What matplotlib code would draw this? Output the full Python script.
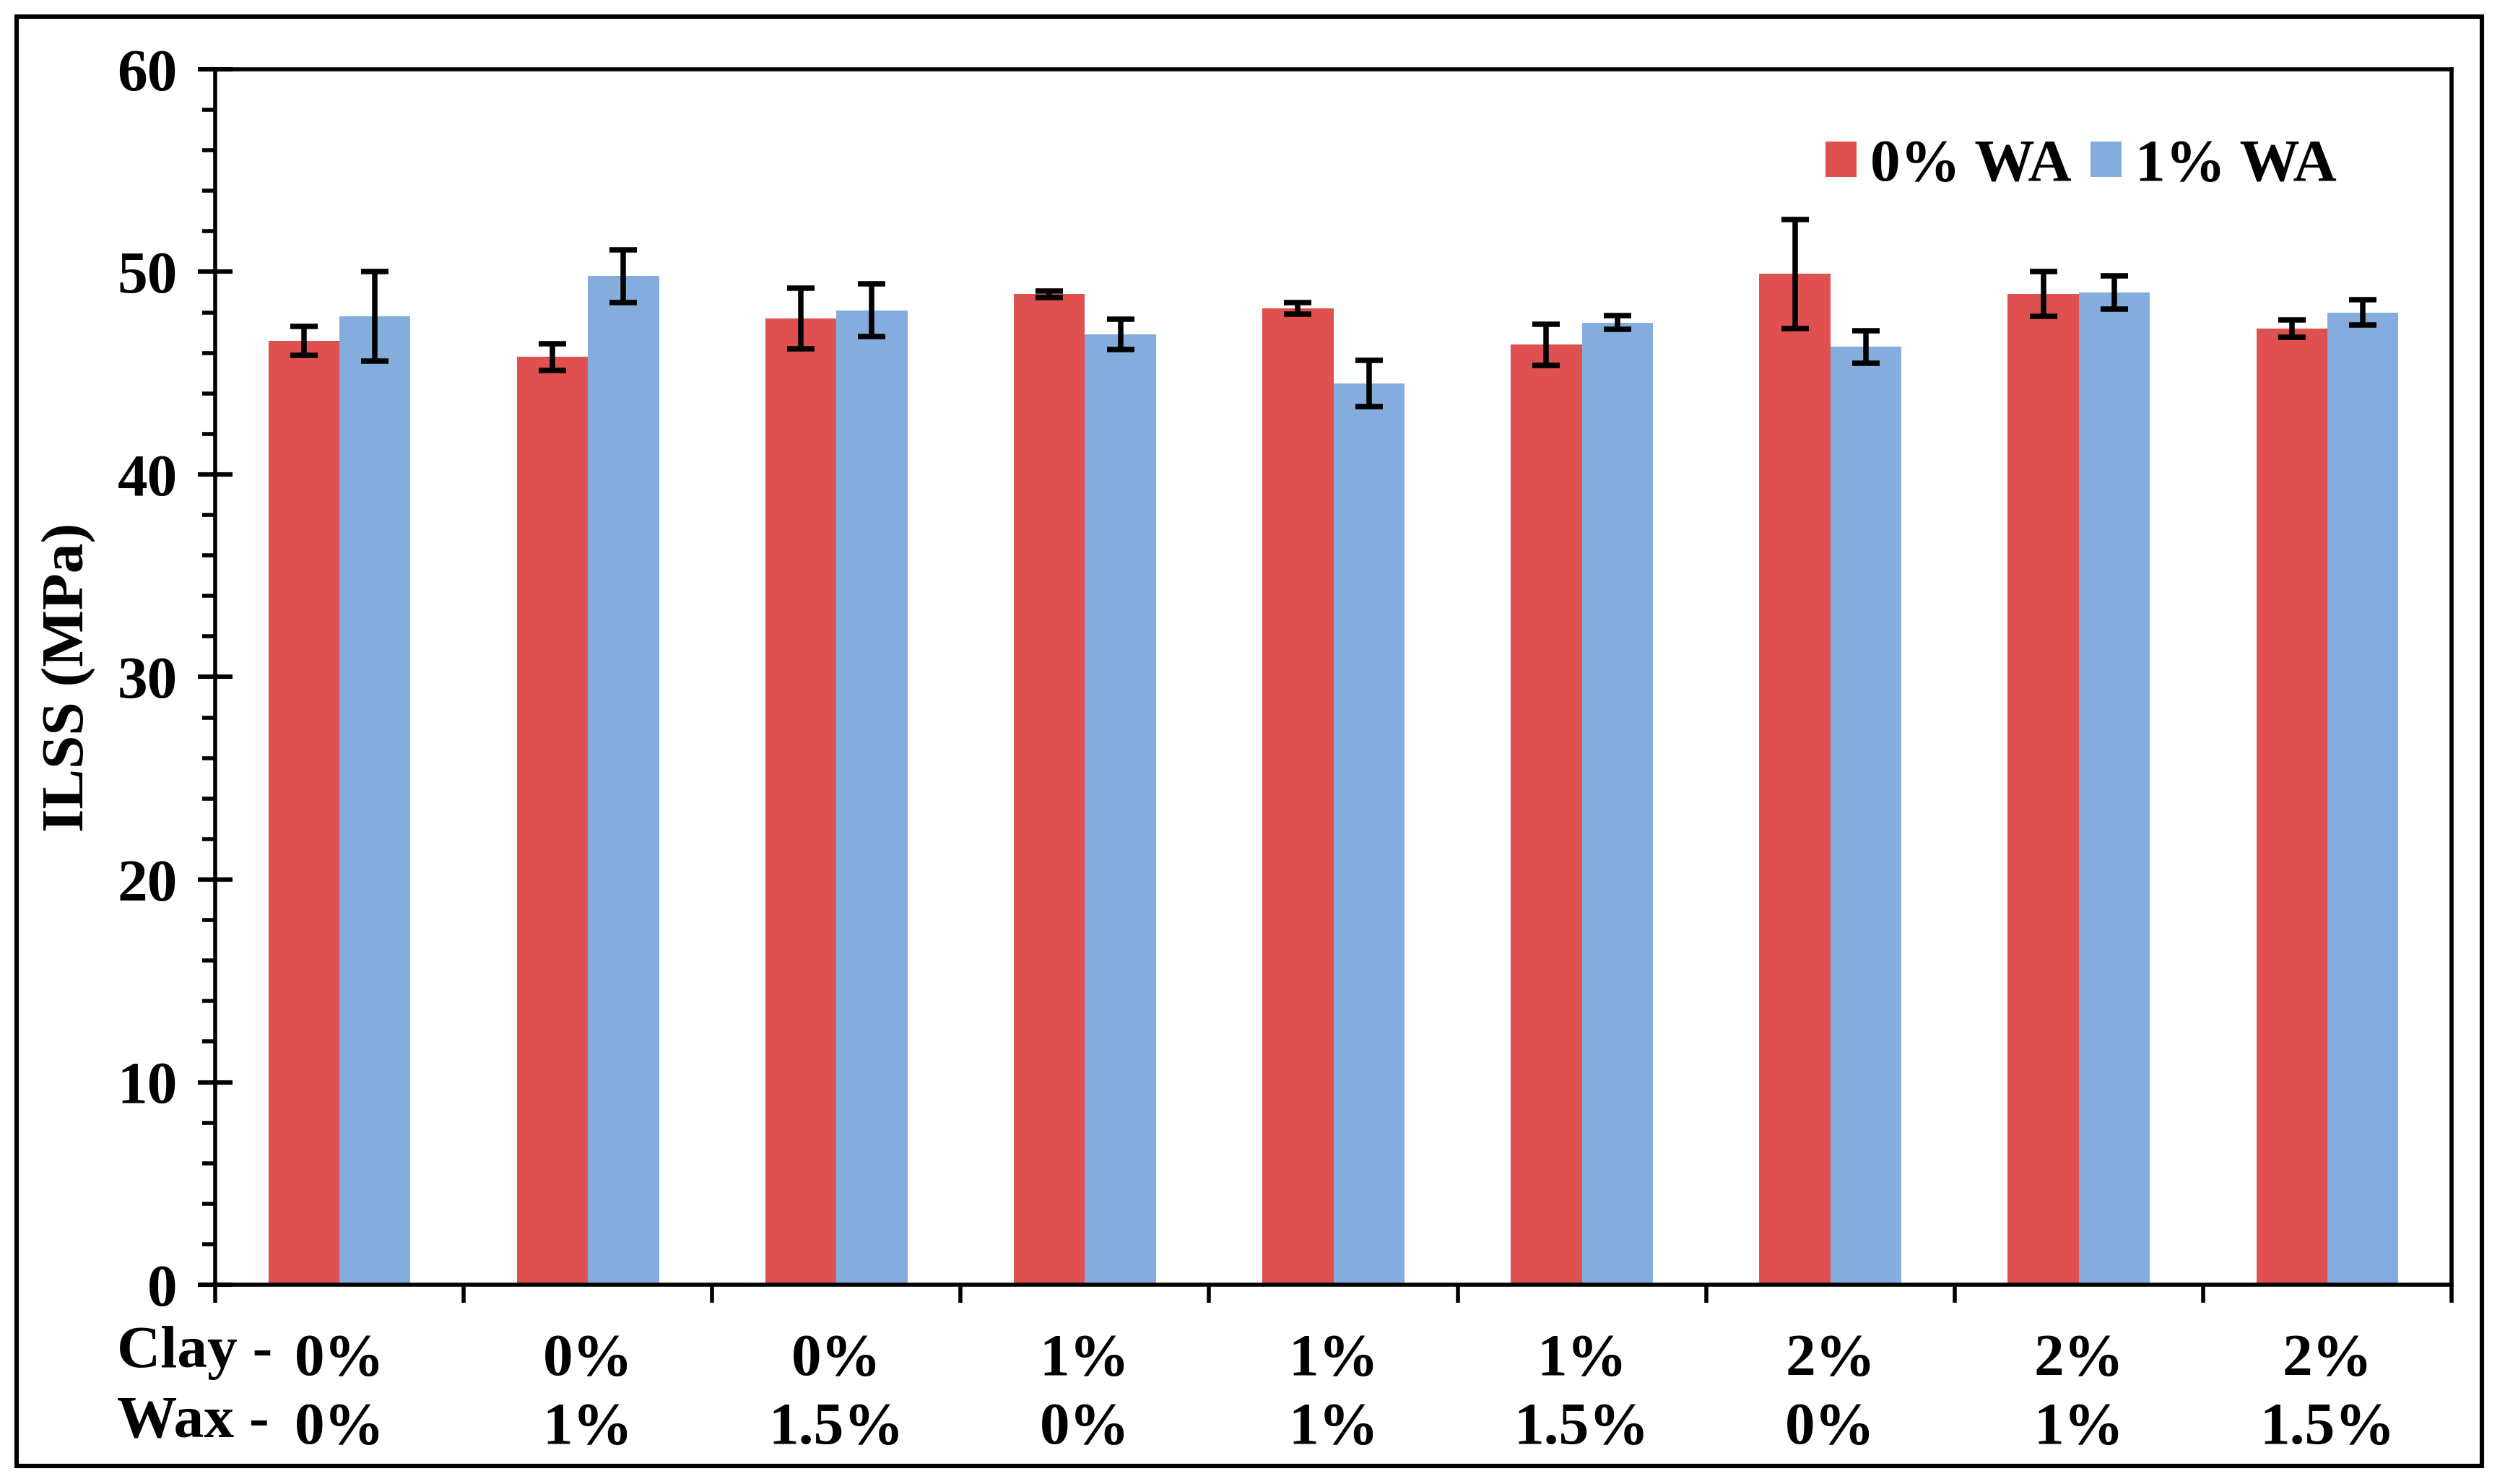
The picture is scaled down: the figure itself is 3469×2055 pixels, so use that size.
import matplotlib
matplotlib.use("Agg")
import matplotlib.pyplot as plt
import numpy as np
from matplotlib.patches import Rectangle
from matplotlib.ticker import MultipleLocator

plt.rcParams['font.family'] = ['Liberation Serif', 'DejaVu Serif']
plt.rcParams['font.weight'] = 'bold'

clay = ["0%", "0%", "0%", "1%", "1%", "1%", "2%", "2%", "2%"]
wax = ["0%", "1%", "1.5%", "0%", "1%", "1.5%", "0%", "1%", "1.5%"]
wa0 = [46.6, 45.8, 47.7, 48.9, 48.2, 46.4, 49.9, 48.9, 47.2]
wa0_err = [0.7, 0.65, 1.5, 0.17, 0.28, 1.0, 2.7, 1.1, 0.43]
wa1 = [47.8, 49.8, 48.1, 46.9, 44.5, 47.5, 46.3, 49.0, 48.0]
wa1_err = [2.2, 1.3, 1.3, 0.75, 1.15, 0.34, 0.8, 0.82, 0.63]
series_labels = ["0% WA", "1% WA"]
red = "#DE5150"
blue = "#84ADDE"

W, H, DPI = 3469, 2055, 200
fig = plt.figure(figsize=(W / DPI, H / DPI), dpi=DPI)
ax = fig.add_axes([298 / W, 1 - 1779 / H, (3395 - 298) / W, (1779 - 96) / H])

x = np.arange(len(clay))
bw = 0.286
ekw = dict(elinewidth=2.7, capthick=2.7, ecolor='black')
ax.bar(x - bw / 2, wa0, bw, color=red, label=series_labels[0],
       yerr=wa0_err, capsize=6.8, error_kw=ekw, zorder=2)
ax.bar(x + bw / 2, wa1, bw, color=blue, label=series_labels[1],
       yerr=wa1_err, capsize=6.8, error_kw=ekw, zorder=2)

ax.set_xlim(-0.5, len(clay) - 0.5)
ax.set_ylim(0, 60)
ax.yaxis.set_major_locator(MultipleLocator(10))
ax.yaxis.set_minor_locator(MultipleLocator(2))
ax.set_xticks(np.arange(len(clay) + 1) - 0.5)
ax.set_xticklabels([])

for s in ax.spines.values():
    s.set_linewidth(2.0)
    s.set_color('black')

ax.tick_params(axis='y', which='major', direction='inout', length=17.6, width=2.2,
               labelsize=30, pad=10)
ax.tick_params(axis='y', which='minor', direction='out', length=6.5, width=2.0)
ax.tick_params(axis='x', which='major', direction='out', length=9, width=2.0)
for lab in ax.get_yticklabels():
    lab.set_fontweight('bold')

ax.set_ylabel("ILSS (MPa)", fontsize=30, fontweight='bold')
ax.yaxis.set_label_coords(-0.053, 0.5)

tr = ax.get_xaxis_transform()
for i in range(len(clay)):
    ax.text(x[i], -0.0743, clay[i], transform=tr, ha='center', va='baseline',
            fontsize=30, fontweight='bold')
    ax.text(x[i], -0.1307, wax[i], transform=tr, ha='center', va='baseline',
            fontsize=30, fontweight='bold')
ax.text(-0.0439, -0.0677, "Clay -", transform=ax.transAxes, ha='left', va='baseline',
        fontsize=30, fontweight='bold')
ax.text(-0.0439, -0.1248, "Wax -", transform=ax.transAxes, ha='left', va='baseline',
        fontsize=30, fontweight='bold')

leg = ax.legend(loc='center left', bbox_to_anchor=(0.72, 0.92), ncol=2, frameon=False,
                fontsize=30, handlelength=0.52, handleheight=0.52, handletextpad=0.23,
                columnspacing=0.31, borderpad=0, borderaxespad=0)
for t in leg.get_texts():
    t.set_fontweight('bold')

fig.patches.append(Rectangle((23 / W, 1 - 2030 / H), (3437 - 23) / W, (2030 - 23) / H,
                             transform=fig.transFigure, fill=False, edgecolor='black',
                             linewidth=2.2))

fig.savefig("out.png", dpi=DPI, facecolor='white')
